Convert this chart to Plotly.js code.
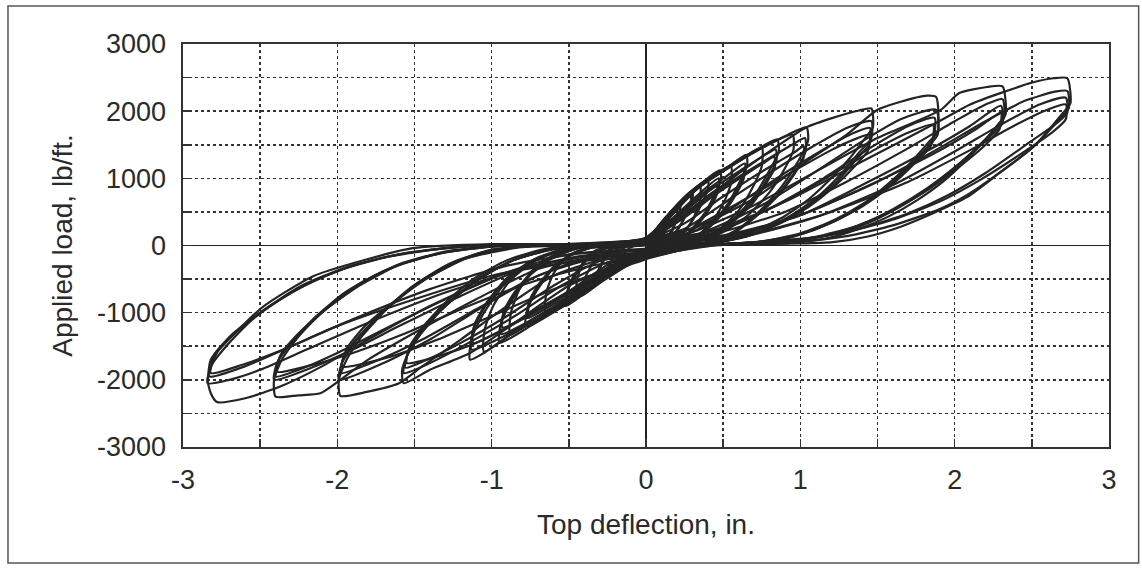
<!DOCTYPE html>
<html>
<head>
<meta charset="utf-8">
<script src="https://cdn.plot.ly/plotly-3.0.1.min.js"></script>
<style>html,body{margin:0;padding:0;background:#fff;}#chart{width:1142px;height:572px;}</style>
</head>
<body>
<div id="chart"></div>
<script>
// Axis text
const xTitle = "Top deflection, in.";
const yTitle = "Applied load, lb/ft.";
const xTickVals = [-3, -2, -1, 0, 1, 2, 3];
const yTickVals = [-3000, -2000, -1000, 0, 1000, 2000, 3000];

// Hysteresis cycles (deflection in., load lb/ft)
const x1a = [0,0.05,0.1,0.15,0.152,0.14,0.12,0.1,0.075,0.05,0.03,0,-0.05,-0.11,-0.17,-0.167,-0.153,-0.133,-0.105,-0.077,-0.04,0];
const y1a = [30,170,320,450,400,320,200,110,45,10,0,-40,-110,-220,-300,-240,-165,-90,-35,-10,0,30];

const xf1 = [0,0.06,0.13,0.2,0.2,0.17,0.12,0.07,0.02,0,-0.1,-0.2,-0.3,-0.295,-0.27,-0.22,-0.15,-0.07,0];
const yf1 = [20,230,420,560,420,220,80,15,0,-120,-260,-400,-520,-330,-160,-50,-5,10,20];

const x15a = [0,0.07,0.15,0.22,0.222,0.205,0.18,0.145,0.11,0.075,0.045,0,-0.08,-0.16,-0.25,-0.245,-0.225,-0.195,-0.155,-0.11,-0.06,0];
const y15a = [50,240,450,620,550,440,280,150,60,15,0,-60,-150,-300,-440,-350,-240,-130,-50,-12,0,50];

const x2a = [0,0.1,0.2,0.3,0.303,0.28,0.24,0.195,0.15,0.1,0.06,0,-0.11,-0.22,-0.33,-0.325,-0.3,-0.26,-0.2,-0.15,-0.08,0];
const y2a = [60,330,600,820,720,580,370,200,80,20,0,-80,-200,-400,-580,-460,-320,-170,-70,-15,0,60];
const x2b = [0,0.1,0.2,0.29,0.29,0.27,0.23,0.18,0.13,0.08,0,-0.1,-0.21,-0.32,-0.315,-0.29,-0.25,-0.19,-0.13,-0.06,0];
const y2b = [40,280,530,740,650,520,330,170,60,10,-60,-160,-350,-530,-420,-290,-150,-55,-10,0,40];

const xf2 = [0,0.1,0.22,0.35,0.35,0.31,0.25,0.17,0.09,0,-0.15,-0.3,-0.45,-0.445,-0.41,-0.34,-0.25,-0.14,0];
const yf2 = [40,330,650,900,680,420,200,60,5,-150,-340,-560,-760,-500,-260,-90,-15,10,40];

const x25a = [0,0.13,0.27,0.4,0.404,0.375,0.32,0.26,0.2,0.14,0.08,0,-0.14,-0.28,-0.42,-0.415,-0.38,-0.33,-0.26,-0.19,-0.1,0];
const y25a = [80,430,760,980,860,690,440,240,100,25,0,-100,-260,-520,-750,-600,-410,-220,-90,-20,0,80];

const x3a = [0,0.16,0.32,0.48,0.485,0.45,0.385,0.31,0.24,0.17,0.1,0,-0.2,-0.38,-0.52,-0.515,-0.47,-0.405,-0.325,-0.235,-0.13,0];
const y3a = [90,480,850,1120,990,790,500,280,110,30,0,-120,-340,-680,-900,-720,-500,-270,-110,-25,0,90];
const x3b = [0,0.17,0.33,0.47,0.472,0.44,0.37,0.3,0.22,0.15,0,-0.19,-0.37,-0.51,-0.505,-0.46,-0.39,-0.31,-0.22,-0.11,0];
const y3b = [70,400,740,1000,880,700,430,230,80,15,-100,-290,-580,-800,-640,-440,-230,-90,-15,0,70];
const x3c = [0,0.18,0.34,0.46,0.462,0.43,0.36,0.29,0.21,0.14,0,-0.19,-0.36,-0.5,-0.495,-0.45,-0.38,-0.3,-0.21,-0.1,0];
const y3c = [50,380,680,900,790,620,380,200,70,10,-80,-270,-530,-720,-570,-390,-200,-80,-12,0,50];

const xf3 = [0,0.16,0.35,0.55,0.55,0.5,0.42,0.32,0.2,0.1,0,-0.21,-0.45,-0.65,-0.645,-0.6,-0.52,-0.4,-0.26,-0.12,0];
const yf3 = [60,480,880,1180,920,620,330,130,30,0,-160,-360,-750,-1000,-700,-420,-180,-50,-5,10,60];

const x4a = [0,0.16,0.35,0.52,0.65,0.655,0.61,0.53,0.43,0.33,0.23,0.13,0,-0.21,-0.45,-0.65,-0.78,-0.77,-0.71,-0.61,-0.49,-0.36,-0.2,0];
const y4a = [100,480,880,1150,1350,1190,960,620,340,140,40,0,-140,-360,-750,-1020,-1200,-960,-680,-370,-150,-35,0,100];
const x4b = [0,0.2,0.38,0.52,0.64,0.642,0.6,0.52,0.42,0.32,0.22,0.12,0,-0.2,-0.42,-0.62,-0.77,-0.76,-0.7,-0.6,-0.48,-0.35,-0.19,0];
const y4b = [80,450,800,1030,1220,1070,860,560,300,120,30,0,-120,-300,-650,-900,-1080,-860,-610,-330,-130,-30,0,80];
const x4c = [0,0.22,0.4,0.53,0.63,0.632,0.59,0.51,0.41,0.31,0.21,0.11,0,-0.21,-0.43,-0.62,-0.76,-0.75,-0.69,-0.59,-0.47,-0.34,-0.18,0];
const y4c = [60,420,740,950,1120,990,790,510,270,100,20,0,-90,-290,-610,-840,-1000,-800,-560,-300,-110,-25,0,60];

const xf4 = [0,0.16,0.35,0.55,0.75,0.75,0.69,0.6,0.48,0.35,0.2,0,-0.21,-0.54,-0.75,-0.88,-0.875,-0.82,-0.72,-0.58,-0.4,-0.2,0];
const yf4 = [30,450,880,1180,1460,1180,860,520,250,80,10,-60,-360,-910,-1150,-1330,-1000,-650,-330,-120,-20,5,30];

const x5a = [0,0.16,0.35,0.55,0.72,0.85,0.86,0.8,0.7,0.57,0.44,0.31,0.17,0,-0.21,-0.5,-0.75,-0.95,-0.94,-0.87,-0.75,-0.6,-0.44,-0.25,0];
const y5a = [110,480,900,1200,1430,1580,1390,1120,730,400,170,50,0,-160,-360,-850,-1200,-1450,-1160,-820,-440,-180,-40,0,110];
const x5b = [0,0.2,0.4,0.6,0.75,0.84,0.845,0.79,0.69,0.56,0.43,0.3,0.16,0,-0.22,-0.48,-0.72,-0.94,-0.93,-0.86,-0.74,-0.59,-0.43,-0.24,0];
const y5b = [90,420,800,1100,1320,1430,1260,1010,660,360,150,40,0,-130,-320,-760,-1080,-1320,-1060,-750,-400,-160,-35,0,90];
const x5c = [0,0.24,0.45,0.64,0.77,0.83,0.835,0.78,0.68,0.55,0.42,0.29,0.15,0,-0.23,-0.49,-0.73,-0.93,-0.92,-0.85,-0.73,-0.58,-0.42,-0.23,0];
const y5c = [70,400,760,1050,1240,1320,1160,930,600,330,130,30,0,-110,-300,-700,-1000,-1220,-970,-690,-370,-150,-30,0,70];

const xf5 = [0,0.16,0.35,0.55,0.75,0.95,0.955,0.9,0.8,0.66,0.5,0.34,0.18,0,-0.21,-0.54,-0.86,-1.05,-1.045,-0.99,-0.88,-0.72,-0.54,-0.34,-0.16,0];
const yf5 = [20,450,880,1180,1450,1650,1420,1150,790,450,200,60,5,-200,-380,-900,-1300,-1580,-1250,-900,-520,-230,-70,-10,0,20];

const x6a = [0,0.16,0.35,0.55,0.75,0.92,1.04,1.05,0.99,0.88,0.74,0.6,0.46,0.32,0.18,0,-0.21,-0.54,-0.86,-1.05,-1.14,-1.13,-1.05,-0.92,-0.75,-0.57,-0.38,-0.2,0];
const y6a = [120,450,880,1180,1450,1650,1760,1560,1270,880,520,250,90,20,0,-170,-360,-910,-1300,-1600,-1700,-1380,-1000,-580,-260,-80,-10,0,120];
const x6b = [0,0.2,0.42,0.62,0.82,0.96,1.03,1.035,0.98,0.87,0.73,0.59,0.45,0.31,0.17,0,-0.2,-0.45,-0.7,-0.92,-1.13,-1.12,-1.04,-0.91,-0.74,-0.56,-0.37,-0.19,0];
const y6b = [100,380,750,1050,1330,1520,1600,1410,1150,800,470,220,80,15,0,-150,-280,-700,-1050,-1350,-1550,-1250,-900,-520,-230,-70,-10,0,100];
const x6c = [0,0.25,0.48,0.68,0.86,0.97,1.02,1.02,0.96,0.85,0.71,0.57,0.43,0.29,0.15,0,-0.22,-0.48,-0.74,-0.95,-1.12,-1.11,-1.03,-0.9,-0.73,-0.55,-0.36,-0.18,0];
const y6c = [80,330,700,1000,1250,1400,1480,1300,1060,730,430,200,70,10,0,-120,-250,-650,-1000,-1280,-1450,-1170,-840,-480,-210,-60,-5,0,80];

const x7a = [0,0.2,0.5,0.8,1.04,1.21,1.38,1.46,1.47,1.42,1.32,1.2,1.06,0.9,0.72,0.52,0.3,0,-0.2,-0.5,-0.85,-1.14,-1.4,-1.57,-1.58,-1.53,-1.44,-1.3,-1.12,-0.9,-0.65,-0.3,0];
const y7a = [110,350,900,1400,1760,1900,2010,2040,1760,1600,1300,1000,700,440,230,90,20,-150,-300,-600,-1150,-1600,-1850,-2050,-1850,-1550,-1200,-850,-500,-220,-50,10,110];
const x7b = [0,0.25,0.55,0.85,1.1,1.3,1.46,1.46,1.38,1.25,1.1,0.92,0.72,0.5,0.25,0,-0.25,-0.55,-0.85,-1.15,-1.4,-1.57,-1.55,-1.46,-1.32,-1.12,-0.88,-0.6,-0.25,0];
const y7b = [90,250,700,1150,1500,1750,1850,1600,1380,1030,700,420,200,60,10,-130,-250,-600,-1050,-1450,-1750,-1900,-1650,-1320,-950,-560,-240,-50,10,90];
const x7c = [0,0.3,0.6,0.9,1.15,1.32,1.45,1.45,1.37,1.24,1.08,0.9,0.7,0.48,0.24,0,-0.3,-0.6,-0.9,-1.2,-1.42,-1.56,-1.54,-1.45,-1.3,-1.1,-0.86,-0.58,-0.25,0];
const y7c = [70,200,620,1080,1430,1650,1750,1520,1300,960,640,370,170,50,5,-110,-230,-600,-1050,-1450,-1700,-1820,-1580,-1260,-900,-520,-220,-40,5,70];
const x7d = [0,0.3,0.65,0.95,1.2,1.35,1.45,1.44,1.36,1.22,1.05,0.86,0.66,0.44,0.2,0,-0.25,-0.5,-0.8,-1.1,-1.35,-1.55,-1.53,-1.44,-1.28,-1.08,-0.84,-0.56,-0.25,0];
const y7d = [30,260,700,1100,1420,1580,1650,1420,1200,880,570,320,140,40,5,-60,-350,-700,-1100,-1450,-1650,-1750,-1500,-1200,-850,-480,-200,-40,5,30];

const x8a = [0,0.3,0.7,1.04,1.3,1.5,1.65,1.82,1.88,1.89,1.84,1.7,1.55,1.4,1.22,1.05,0.85,0.6,0.3,0,-0.3,-0.6,-0.9,-1.2,-1.45,-1.6,-1.81,-1.98,-1.99,-1.94,-1.84,-1.68,-1.48,-1.25,-1.0,-0.7,-0.3,0];
const y8a = [100,250,700,1250,1650,2020,2140,2230,2210,1700,1560,1200,880,600,370,200,90,30,10,-150,-220,-450,-900,-1400,-1800,-2050,-2180,-2240,-2000,-1700,-1350,-950,-560,-250,-70,10,10,100];
const x8b = [0,0.35,0.75,1.1,1.4,1.65,1.88,1.89,1.82,1.66,1.5,1.32,1.12,0.92,0.7,0.4,0,-0.35,-0.7,-1.05,-1.4,-1.7,-1.99,-1.97,-1.88,-1.72,-1.52,-1.28,-1.0,-0.6,0];
const y8b = [80,180,600,1100,1550,1880,2020,1650,1450,1080,760,480,260,110,40,10,-120,-200,-450,-900,-1400,-1750,-2000,-1750,-1420,-1020,-620,-280,-60,10,80];
const x8c = [0,0.4,0.8,1.15,1.45,1.7,1.87,1.86,1.76,1.6,1.42,1.22,1.0,0.75,0.4,0,-0.4,-0.75,-1.1,-1.45,-1.75,-1.98,-1.95,-1.84,-1.66,-1.44,-1.18,-0.85,-0.4,0];
const y8c = [60,150,550,1000,1450,1780,1900,1580,1300,950,640,380,180,60,10,-100,-200,-500,-950,-1400,-1720,-1900,-1620,-1300,-900,-520,-200,-20,10,60];
const x8d = [0,0.45,0.85,1.2,1.5,1.72,1.86,1.85,1.74,1.58,1.4,1.2,0.98,0.72,0.38,0,-0.3,-0.65,-1.0,-1.35,-1.65,-1.97,-1.94,-1.83,-1.64,-1.42,-1.16,-0.82,-0.4,0];
const y8d = [20,200,600,1050,1450,1700,1800,1500,1220,880,580,340,160,50,5,-200,-400,-700,-1050,-1400,-1650,-1800,-1540,-1220,-850,-490,-190,-30,5,20];

const x9a = [0,0.3,0.7,1.1,1.5,1.91,2.03,2.21,2.31,2.33,2.28,2.12,1.95,1.76,1.57,1.38,1.2,1.0,0.8,0.4,0,-0.3,-0.7,-1.1,-1.5,-1.8,-1.98,-2.11,-2.25,-2.4,-2.41,-2.36,-2.25,-2.08,-1.85,-1.6,-1.3,-0.9,-0.4,0];
const y9a = [90,200,600,1100,1600,2020,2270,2360,2370,1950,1800,1380,1000,680,430,250,120,50,20,10,-130,-160,-350,-800,-1300,-1700,-2000,-2200,-2230,-2250,-2000,-1700,-1350,-950,-560,-280,-90,10,10,90];
const x9b = [0,0.4,0.9,1.3,1.7,2.0,2.2,2.31,2.32,2.25,2.08,1.9,1.7,1.5,1.3,1.05,0.8,0.4,0,-0.4,-0.8,-1.2,-1.6,-1.9,-2.2,-2.41,-2.39,-2.3,-2.15,-1.95,-1.7,-1.4,-1.0,-0.5,0];
const y9b = [70,150,500,950,1450,1850,2100,2180,1900,1700,1320,960,650,400,220,100,40,10,-110,-150,-350,-750,-1200,-1550,-1850,-2000,-1750,-1450,-1080,-700,-380,-150,-10,10,70];
const x9c = [0,0.5,1.0,1.4,1.8,2.1,2.3,2.31,2.22,2.02,1.82,1.6,1.38,1.15,0.9,0.5,0,-0.5,-0.9,-1.3,-1.7,-2.0,-2.25,-2.4,-2.38,-2.27,-2.1,-1.88,-1.62,-1.3,-0.9,-0.4,0];
const y9c = [50,120,450,900,1380,1780,2080,1820,1600,1200,850,540,300,140,50,10,-80,-130,-400,-800,-1250,-1600,-1850,-1950,-1700,-1380,-1000,-620,-300,-100,0,10,50];
const x9d = [0,0.55,1.05,1.45,1.85,2.15,2.3,2.29,2.2,2.0,1.8,1.58,1.35,1.1,0.8,0.4,0,-0.35,-0.75,-1.15,-1.55,-1.9,-2.2,-2.39,-2.37,-2.26,-2.08,-1.86,-1.6,-1.28,-0.88,-0.4,0];
const y9d = [10,150,500,900,1350,1750,1980,1730,1500,1120,790,500,280,130,45,5,-180,-300,-550,-900,-1300,-1600,-1800,-1880,-1640,-1330,-960,-600,-290,-90,0,10,10];

const x10a = [0,0.4,0.9,1.4,1.9,2.1,2.31,2.51,2.64,2.73,2.75,2.70,2.51,2.29,2.08,1.86,1.65,1.43,1.21,1.0,0.5,0,-0.4,-0.9,-1.4,-1.8,-2.1,-2.37,-2.59,-2.78,-2.82,-2.84,-2.78,-2.66,-2.48,-2.16,-1.83,-1.51,-1.0,-0.5,0];
const y10a = [80,200,650,1250,1850,2100,2280,2430,2490,2490,2120,1970,1470,1080,720,480,280,130,50,30,20,-120,-160,-400,-900,-1400,-1800,-2100,-2270,-2330,-2200,-2000,-1600,-1300,-910,-460,-220,-40,20,20,80];
const x10b = [0,0.5,1.0,1.5,1.9,2.2,2.45,2.65,2.73,2.74,2.68,2.5,2.3,2.1,1.9,1.6,1.3,1.0,0.6,0.2,-0.3,-0.8,-1.3,-1.8,-2.2,-2.5,-2.7,-2.84,-2.82,-2.72,-2.55,-2.3,-2.0,-1.7,-1.3,-0.9,-0.4,0];
const y10b = [60,150,450,950,1450,1850,2150,2290,2300,2050,1880,1450,1100,780,540,300,140,60,30,-20,-130,-350,-700,-1150,-1550,-1850,-2000,-2050,-1800,-1500,-1100,-700,-380,-180,-40,10,10,60];
const x10c = [0,0.6,1.1,1.6,2.0,2.3,2.55,2.72,2.73,2.66,2.45,2.2,1.95,1.7,1.4,1.1,0.7,0.3,-0.4,-0.9,-1.4,-1.9,-2.3,-2.6,-2.83,-2.82,-2.7,-2.5,-2.25,-1.95,-1.6,-1.2,-0.6,0];
const y10c = [40,120,420,900,1400,1800,2100,2200,1980,1820,1480,1080,740,480,260,120,50,-10,-110,-300,-650,-1100,-1500,-1800,-1950,-1700,-1380,-1000,-620,-330,-130,-20,10,40];
const x10d = [0,0.7,1.2,1.7,2.1,2.4,2.6,2.72,2.72,2.64,2.42,2.16,1.9,1.62,1.3,0.95,0.5,0,-0.5,-1.0,-1.5,-2.0,-2.35,-2.62,-2.82,-2.8,-2.68,-2.47,-2.2,-1.9,-1.55,-1.15,-0.6,0];
const y10d = [0,180,500,950,1420,1800,2020,2100,1880,1700,1350,970,650,400,200,80,20,-150,-250,-450,-800,-1200,-1550,-1780,-1900,-1640,-1320,-950,-580,-300,-110,-10,5,0];

const cycles = [
  [x1a, y1a], [xf1, yf1], [x15a, y15a], [x2a, y2a], [x2b, y2b], [xf2, yf2], [x25a, y25a],
  [x3a, y3a], [x3b, y3b], [x3c, y3c], [xf3, yf3], [x4a, y4a], [x4b, y4b], [x4c, y4c], [xf4, yf4],
  [x5a, y5a], [x5b, y5b], [x5c, y5c], [xf5, yf5], [x6a, y6a], [x6b, y6b], [x6c, y6c],
  [x7a, y7a], [x7b, y7b], [x7c, y7c], [x7d, y7d],
  [x8a, y8a], [x8b, y8b], [x8c, y8c], [x8d, y8d],
  [x9a, y9a], [x9b, y9b], [x9c, y9c], [x9d, y9d],
  [x10a, y10a], [x10b, y10b], [x10c, y10c], [x10d, y10d]
];

const traces = cycles.map(c => ({
  type: 'scatter', mode: 'lines', x: c[0], y: c[1],
  line: {color: '#242424', width: 2.2, shape: 'spline', smoothing: 0.6},
  hoverinfo: 'skip', showlegend: false
}));

const font = {family: 'Liberation Sans, Arial, sans-serif', color: '#2a2a2a'};

const layout = {
  width: 1142, height: 572,
  margin: {l: 183, r: 33, t: 44, b: 125},
  paper_bgcolor: '#ffffff', plot_bgcolor: '#ffffff',
  showlegend: false,
  xaxis: {
    range: [-3, 3], tickvals: xTickVals, ticktext: xTickVals.map(String),
    tickfont: Object.assign({size: 27}, font), ticklabelstandoff: 8,
    title: {text: xTitle, font: Object.assign({size: 28}, font), standoff: 20},
    showgrid: true, gridcolor: '#333', griddash: 'dot', gridwidth: 1.6,
    zeroline: true, zerolinecolor: '#222', zerolinewidth: 1.6,
    showline: true, linecolor: '#333', linewidth: 1.6, mirror: true,
    ticks: 'inside', ticklen: 8, tickcolor: '#333', tickwidth: 1.5,
    minor: {dtick: 0.5, showgrid: true, gridcolor: '#333', griddash: 'dot', gridwidth: 1.6, ticks: 'inside', ticklen: 8, tickcolor: '#333'},
    fixedrange: true
  },
  yaxis: {
    range: [-3000, 3000], tickvals: yTickVals, ticktext: yTickVals.map(String),
    tickfont: Object.assign({size: 27}, font), ticklabelstandoff: 10,
    title: {text: yTitle, font: Object.assign({size: 28}, font), standoff: 16},
    showgrid: true, gridcolor: '#333', griddash: 'dot', gridwidth: 1.6,
    zeroline: true, zerolinecolor: '#222', zerolinewidth: 1.6,
    showline: true, linecolor: '#333', linewidth: 1.6, mirror: true,
    ticks: 'inside', ticklen: 8, tickcolor: '#333', tickwidth: 1.5,
    minor: {dtick: 500, showgrid: true, gridcolor: '#333', griddash: 'dot', gridwidth: 1.6, ticks: 'inside', ticklen: 8, tickcolor: '#333'},
    fixedrange: true
  },
  shapes: [{
    type: 'rect', xref: 'paper', yref: 'paper',
    x0: -0.189, x1: 1.032, y0: -0.288, y1: 1.094,
    line: {color: '#555', width: 1.5}, fillcolor: 'rgba(0,0,0,0)', layer: 'below'
  }]
};

Plotly.newPlot('chart', traces, layout, {displayModeBar: false, staticPlot: true});
</script>
</body>
</html>
